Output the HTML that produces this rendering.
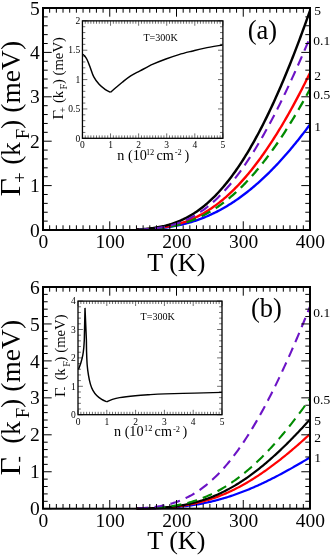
<!DOCTYPE html>
<html><head><meta charset="utf-8"><title>fig</title>
<style>
html,body{margin:0;padding:0;background:#fff;}
svg{display:block;}
.t{opacity:0.999;}
text{font-family:"Liberation Serif",serif;fill:#000;}
</style></head><body>
<svg width="332" height="555" viewBox="0 0 332 555">
<defs>
<clipPath id="ca"><rect x="42" y="7" width="269" height="224"/></clipPath>
<clipPath id="cb"><rect x="42" y="286" width="269" height="223.7"/></clipPath>
</defs>
<rect width="332" height="555" fill="#fff"/>
<g class="t">
<g clip-path="url(#ca)">
<path d="M136.45 229.69 L137.78 229.64 L139.12 229.6 L140.45 229.55 L141.79 229.5 L143.12 229.44 L144.46 229.38 L145.8 229.31 L147.13 229.23 L148.47 229.15 L149.8 229.07 L151.13 228.98 L152.47 228.88 L153.81 228.77 L155.14 228.66 L156.47 228.54 L157.81 228.41 L159.14 228.28 L160.48 228.13 L161.81 227.98 L163.15 227.82 L164.49 227.65 L165.82 227.47 L167.16 227.28 L168.49 227.09 L169.82 226.88 L171.16 226.66 L172.5 226.43 L173.83 226.2 L175.16 225.95 L176.5 225.69 L177.84 225.41 L179.17 225.13 L180.5 224.84 L181.84 224.53 L183.18 224.21 L184.51 223.88 L185.84 223.53 L187.18 223.18 L188.51 222.81 L189.85 222.43 L191.19 222.03 L192.52 221.62 L193.85 221.2 L195.19 220.77 L196.53 220.32 L197.86 219.85 L199.19 219.37 L200.53 218.88 L201.87 218.38 L203.2 217.86 L204.53 217.32 L205.87 216.77 L207.21 216.21 L208.54 215.63 L209.88 215.03 L211.21 214.42 L212.54 213.8 L213.88 213.16 L215.22 212.5 L216.55 211.83 L217.88 211.14 L219.22 210.44 L220.56 209.72 L221.89 208.99 L223.22 208.24 L224.56 207.47 L225.9 206.69 L227.23 205.89 L228.56 205.08 L229.9 204.25 L231.24 203.4 L232.57 202.54 L233.91 201.66 L235.24 200.77 L236.57 199.86 L237.91 198.93 L239.25 197.98 L240.58 197.02 L241.91 196.05 L243.25 195.05 L244.59 194.04 L245.92 193.02 L247.25 191.98 L248.59 190.92 L249.93 189.84 L251.26 188.75 L252.59 187.64 L253.93 186.52 L255.26 185.37 L256.6 184.22 L257.94 183.04 L259.27 181.85 L260.61 180.64 L261.94 179.42 L263.27 178.18 L264.61 176.92 L265.94 175.65 L267.28 174.36 L268.62 173.05 L269.95 171.73 L271.28 170.39 L272.62 169.03 L273.96 167.66 L275.29 166.27 L276.62 164.86 L277.96 163.44 L279.29 162 L280.63 160.55 L281.97 159.08 L283.3 157.59 L284.63 156.09 L285.97 154.57 L287.31 153.04 L288.64 151.48 L289.98 149.92 L291.31 148.33 L292.64 146.73 L293.98 145.12 L295.31 143.48 L296.65 141.84 L297.99 140.17 L299.32 138.49 L300.65 136.8 L301.99 135.08 L303.32 133.36 L304.66 131.61 L306 129.85 L307.33 128.08 L308.67 126.29 L310 124.48" stroke="#0000ff" stroke-width="2.35" fill="none"/>
<path d="M136.45 229.67 L137.78 229.62 L139.12 229.57 L140.45 229.52 L141.79 229.45 L143.12 229.39 L144.46 229.31 L145.8 229.23 L147.13 229.14 L148.47 229.04 L149.8 228.94 L151.13 228.82 L152.47 228.7 L153.81 228.57 L155.14 228.43 L156.47 228.28 L157.81 228.12 L159.14 227.94 L160.48 227.76 L161.81 227.56 L163.15 227.35 L164.49 227.13 L165.82 226.9 L167.16 226.65 L168.49 226.39 L169.82 226.11 L171.16 225.82 L172.5 225.51 L173.83 225.19 L175.16 224.85 L176.5 224.5 L177.84 224.13 L179.17 223.74 L180.5 223.33 L181.84 222.91 L183.18 222.47 L184.51 222.01 L185.84 221.53 L187.18 221.03 L188.51 220.51 L189.85 219.97 L191.19 219.41 L192.52 218.84 L193.85 218.24 L195.19 217.62 L196.53 216.97 L197.86 216.31 L199.19 215.63 L200.53 214.92 L201.87 214.19 L203.2 213.44 L204.53 212.67 L205.87 211.87 L207.21 211.05 L208.54 210.21 L209.88 209.34 L211.21 208.45 L212.54 207.53 L213.88 206.6 L215.22 205.63 L216.55 204.65 L217.88 203.64 L219.22 202.6 L220.56 201.54 L221.89 200.46 L223.22 199.35 L224.56 198.21 L225.9 197.05 L227.23 195.87 L228.56 194.66 L229.9 193.42 L231.24 192.16 L232.57 190.87 L233.91 189.56 L235.24 188.22 L236.57 186.86 L237.91 185.47 L239.25 184.06 L240.58 182.62 L241.91 181.15 L243.25 179.66 L244.59 178.14 L245.92 176.6 L247.25 175.03 L248.59 173.43 L249.93 171.81 L251.26 170.17 L252.59 168.5 L253.93 166.8 L255.26 165.07 L256.6 163.33 L257.94 161.55 L259.27 159.75 L260.61 157.92 L261.94 156.07 L263.27 154.2 L264.61 152.29 L265.94 150.37 L267.28 148.41 L268.62 146.43 L269.95 144.43 L271.28 142.4 L272.62 140.35 L273.96 138.27 L275.29 136.16 L276.62 134.03 L277.96 131.88 L279.29 129.7 L280.63 127.5 L281.97 125.27 L283.3 123.01 L284.63 120.74 L285.97 118.43 L287.31 116.11 L288.64 113.76 L289.98 111.38 L291.31 108.98 L292.64 106.56 L293.98 104.11 L295.31 101.64 L296.65 99.15 L297.99 96.63 L299.32 94.09 L300.65 91.52 L301.99 88.93 L303.32 86.32 L304.66 83.68 L306 81.02 L307.33 78.34 L308.67 75.64 L310 72.91" stroke="#ff0000" stroke-width="2.4" fill="none"/>
<path d="M136.45 229.53 L137.78 229.46 L139.12 229.39 L140.45 229.31 L141.79 229.22 L143.12 229.12 L144.46 229.01 L145.8 228.9 L147.13 228.77 L148.47 228.63 L149.8 228.48 L151.13 228.32 L152.47 228.15 L153.81 227.96 L155.14 227.76 L156.47 227.55 L157.81 227.32 L159.14 227.07 L160.48 226.81 L161.81 226.53 L163.15 226.24 L164.49 225.93 L165.82 225.59 L167.16 225.24 L168.49 224.87 L169.82 224.48 L171.16 224.07 L172.5 223.64 L173.83 223.19 L175.16 222.71 L176.5 222.21 L177.84 221.69 L179.17 221.14 L180.5 220.57 L181.84 219.98 L183.18 219.36 L184.51 218.71 L185.84 218.04 L187.18 217.34 L188.51 216.61 L189.85 215.85 L191.19 215.07 L192.52 214.26 L193.85 213.42 L195.19 212.55 L196.53 211.65 L197.86 210.72 L199.19 209.76 L200.53 208.77 L201.87 207.75 L203.2 206.7 L204.53 205.61 L205.87 204.5 L207.21 203.35 L208.54 202.17 L209.88 200.95 L211.21 199.71 L212.54 198.43 L213.88 197.12 L215.22 195.77 L216.55 194.39 L217.88 192.98 L219.22 191.53 L220.56 190.05 L221.89 188.53 L223.22 186.98 L224.56 185.39 L225.9 183.77 L227.23 182.12 L228.56 180.42 L229.9 178.7 L231.24 176.94 L232.57 175.14 L233.91 173.31 L235.24 171.44 L236.57 169.54 L237.91 167.6 L239.25 165.62 L240.58 163.61 L241.91 161.56 L243.25 159.48 L244.59 157.36 L245.92 155.21 L247.25 153.02 L248.59 150.79 L249.93 148.53 L251.26 146.24 L252.59 143.9 L253.93 141.53 L255.26 139.13 L256.6 136.69 L257.94 134.21 L259.27 131.7 L260.61 129.15 L261.94 126.57 L263.27 123.95 L264.61 121.3 L265.94 118.61 L267.28 115.88 L268.62 113.12 L269.95 110.33 L271.28 107.5 L272.62 104.63 L273.96 101.73 L275.29 98.79 L276.62 95.82 L277.96 92.82 L279.29 89.78 L280.63 86.71 L281.97 83.6 L283.3 80.46 L284.63 77.28 L285.97 74.07 L287.31 70.82 L288.64 67.54 L289.98 64.23 L291.31 60.88 L292.64 57.5 L293.98 54.09 L295.31 50.64 L296.65 47.16 L297.99 43.65 L299.32 40.1 L300.65 36.52 L301.99 32.91 L303.32 29.27 L304.66 25.59 L306 21.88 L307.33 18.14 L308.67 14.37 L310 10.56" stroke="#000" stroke-width="2.45" fill="none"/>
<path d="M136.45 229.72 L137.78 229.68 L139.12 229.64 L140.45 229.59 L141.79 229.54 L143.12 229.48 L144.46 229.41 L145.8 229.34 L147.13 229.26 L148.47 229.18 L149.8 229.09 L151.13 228.99 L152.47 228.89 L153.81 228.77 L155.14 228.65 L156.47 228.52 L157.81 228.38 L159.14 228.23 L160.48 228.07 L161.81 227.89 L163.15 227.71 L164.49 227.52 L165.82 227.31 L167.16 227.1 L168.49 226.87 L169.82 226.62 L171.16 226.37 L172.5 226.1 L173.83 225.82 L175.16 225.52 L176.5 225.21 L177.84 224.88 L179.17 224.54 L180.5 224.18 L181.84 223.81 L183.18 223.42 L184.51 223.01 L185.84 222.59 L187.18 222.15 L188.51 221.69 L189.85 221.21 L191.19 220.72 L192.52 220.21 L193.85 219.68 L195.19 219.13 L196.53 218.56 L197.86 217.97 L199.19 217.36 L200.53 216.74 L201.87 216.09 L203.2 215.42 L204.53 214.73 L205.87 214.02 L207.21 213.29 L208.54 212.54 L209.88 211.77 L211.21 210.98 L212.54 210.16 L213.88 209.33 L215.22 208.47 L216.55 207.59 L217.88 206.69 L219.22 205.76 L220.56 204.82 L221.89 203.85 L223.22 202.86 L224.56 201.84 L225.9 200.81 L227.23 199.75 L228.56 198.66 L229.9 197.56 L231.24 196.43 L232.57 195.28 L233.91 194.11 L235.24 192.91 L236.57 191.69 L237.91 190.44 L239.25 189.18 L240.58 187.89 L241.91 186.57 L243.25 185.23 L244.59 183.87 L245.92 182.49 L247.25 181.08 L248.59 179.65 L249.93 178.2 L251.26 176.72 L252.59 175.22 L253.93 173.69 L255.26 172.15 L256.6 170.57 L257.94 168.98 L259.27 167.36 L260.61 165.72 L261.94 164.06 L263.27 162.37 L264.61 160.66 L265.94 158.93 L267.28 157.17 L268.62 155.39 L269.95 153.59 L271.28 151.76 L272.62 149.91 L273.96 148.04 L275.29 146.15 L276.62 144.23 L277.96 142.29 L279.29 140.33 L280.63 138.35 L281.97 136.34 L283.3 134.31 L284.63 132.26 L285.97 130.18 L287.31 128.09 L288.64 125.97 L289.98 123.83 L291.31 121.67 L292.64 119.49 L293.98 117.28 L295.31 115.05 L296.65 112.8 L297.99 110.53 L299.32 108.24 L300.65 105.93 L301.99 103.6 L303.32 101.24 L304.66 98.86 L306 96.47 L307.33 94.05 L308.67 91.61 L310 89.15" stroke="#008b00" stroke-width="2.3" fill="none" stroke-dasharray="10 6.2" stroke-dashoffset="13.88"/>
<path d="M136.45 229.69 L137.78 229.64 L139.12 229.59 L140.45 229.53 L141.79 229.47 L143.12 229.39 L144.46 229.31 L145.8 229.23 L147.13 229.13 L148.47 229.03 L149.8 228.91 L151.13 228.79 L152.47 228.65 L153.81 228.5 L155.14 228.35 L156.47 228.17 L157.81 227.99 L159.14 227.79 L160.48 227.58 L161.81 227.36 L163.15 227.11 L164.49 226.86 L165.82 226.58 L167.16 226.29 L168.49 225.98 L169.82 225.66 L171.16 225.31 L172.5 224.95 L173.83 224.56 L175.16 224.16 L176.5 223.73 L177.84 223.28 L179.17 222.81 L180.5 222.32 L181.84 221.8 L183.18 221.26 L184.51 220.7 L185.84 220.11 L187.18 219.5 L188.51 218.86 L189.85 218.19 L191.19 217.5 L192.52 216.79 L193.85 216.04 L195.19 215.27 L196.53 214.47 L197.86 213.64 L199.19 212.79 L200.53 211.9 L201.87 210.99 L203.2 210.04 L204.53 209.07 L205.87 208.07 L207.21 207.04 L208.54 205.97 L209.88 204.88 L211.21 203.76 L212.54 202.6 L213.88 201.41 L215.22 200.2 L216.55 198.95 L217.88 197.67 L219.22 196.36 L220.56 195.01 L221.89 193.64 L223.22 192.23 L224.56 190.79 L225.9 189.32 L227.23 187.82 L228.56 186.28 L229.9 184.72 L231.24 183.12 L232.57 181.49 L233.91 179.82 L235.24 178.13 L236.57 176.4 L237.91 174.65 L239.25 172.86 L240.58 171.04 L241.91 169.18 L243.25 167.3 L244.59 165.38 L245.92 163.44 L247.25 161.46 L248.59 159.45 L249.93 157.41 L251.26 155.34 L252.59 153.24 L253.93 151.11 L255.26 148.95 L256.6 146.76 L257.94 144.54 L259.27 142.29 L260.61 140.02 L261.94 137.71 L263.27 135.37 L264.61 133.01 L265.94 130.61 L267.28 128.19 L268.62 125.74 L269.95 123.26 L271.28 120.76 L272.62 118.23 L273.96 115.67 L275.29 113.08 L276.62 110.47 L277.96 107.83 L279.29 105.17 L280.63 102.48 L281.97 99.76 L283.3 97.02 L284.63 94.25 L285.97 91.46 L287.31 88.65 L288.64 85.81 L289.98 82.95 L291.31 80.06 L292.64 77.16 L293.98 74.23 L295.31 71.27 L296.65 68.3 L297.99 65.3 L299.32 62.28 L300.65 59.24 L301.99 56.18 L303.32 53.1 L304.66 49.99 L306 46.87 L307.33 43.73 L308.67 40.57 L310 37.39" stroke="#6c14c6" stroke-width="2.1" fill="none" stroke-dasharray="10 6.2" stroke-dashoffset="13.87"/>
</g>
<path d="M43 230v-8.7M43 8v8.7M49.67 230v-4.7M49.67 8v4.7M56.35 230v-4.7M56.35 8v4.7M63.02 230v-4.7M63.02 8v4.7M69.7 230v-4.7M69.7 8v4.7M76.38 230v-4.7M76.38 8v4.7M83.05 230v-4.7M83.05 8v4.7M89.72 230v-4.7M89.72 8v4.7M96.4 230v-4.7M96.4 8v4.7M103.08 230v-4.7M103.08 8v4.7M109.75 230v-8.7M109.75 8v8.7M116.42 230v-4.7M116.42 8v4.7M123.1 230v-4.7M123.1 8v4.7M129.78 230v-4.7M129.78 8v4.7M136.45 230v-4.7M136.45 8v4.7M143.12 230v-4.7M143.12 8v4.7M149.8 230v-4.7M149.8 8v4.7M156.47 230v-4.7M156.47 8v4.7M163.15 230v-4.7M163.15 8v4.7M169.82 230v-4.7M169.82 8v4.7M176.5 230v-8.7M176.5 8v8.7M183.18 230v-4.7M183.18 8v4.7M189.85 230v-4.7M189.85 8v4.7M196.53 230v-4.7M196.53 8v4.7M203.2 230v-4.7M203.2 8v4.7M209.88 230v-4.7M209.88 8v4.7M216.55 230v-4.7M216.55 8v4.7M223.22 230v-4.7M223.22 8v4.7M229.9 230v-4.7M229.9 8v4.7M236.57 230v-4.7M236.57 8v4.7M243.25 230v-8.7M243.25 8v8.7M249.93 230v-4.7M249.93 8v4.7M256.6 230v-4.7M256.6 8v4.7M263.27 230v-4.7M263.27 8v4.7M269.95 230v-4.7M269.95 8v4.7M276.62 230v-4.7M276.62 8v4.7M283.3 230v-4.7M283.3 8v4.7M289.98 230v-4.7M289.98 8v4.7M296.65 230v-4.7M296.65 8v4.7M303.32 230v-4.7M303.32 8v4.7M310 230v-8.7M310 8v8.7" stroke="#000" stroke-width="1" fill="none"/>
<path d="M43 230h8.7M310 230h-8.7M43 221.12h4.7M310 221.12h-4.7M43 212.24h4.7M310 212.24h-4.7M43 203.36h4.7M310 203.36h-4.7M43 194.48h4.7M310 194.48h-4.7M43 185.6h8.7M310 185.6h-8.7M43 176.72h4.7M310 176.72h-4.7M43 167.84h4.7M310 167.84h-4.7M43 158.96h4.7M310 158.96h-4.7M43 150.08h4.7M310 150.08h-4.7M43 141.2h8.7M310 141.2h-8.7M43 132.32h4.7M310 132.32h-4.7M43 123.44h4.7M310 123.44h-4.7M43 114.56h4.7M310 114.56h-4.7M43 105.68h4.7M310 105.68h-4.7M43 96.8h8.7M310 96.8h-8.7M43 87.92h4.7M310 87.92h-4.7M43 79.04h4.7M310 79.04h-4.7M43 70.16h4.7M310 70.16h-4.7M43 61.28h4.7M310 61.28h-4.7M43 52.4h8.7M310 52.4h-8.7M43 43.52h4.7M310 43.52h-4.7M43 34.64h4.7M310 34.64h-4.7M43 25.76h4.7M310 25.76h-4.7M43 16.88h4.7M310 16.88h-4.7M43 8h8.7M310 8h-8.7" stroke="#000" stroke-width="1" fill="none"/>
<rect x="43" y="8" width="267" height="222" fill="none" stroke="#000" stroke-width="2"/>
<text x="39.8" y="236.6" font-size="19.5" text-anchor="end" >0</text>
<text x="39.8" y="192.2" font-size="19.5" text-anchor="end" >1</text>
<text x="39.8" y="147.8" font-size="19.5" text-anchor="end" >2</text>
<text x="39.8" y="103.4" font-size="19.5" text-anchor="end" >3</text>
<text x="39.8" y="59" font-size="19.5" text-anchor="end" >4</text>
<text x="39.8" y="14.6" font-size="19.5" text-anchor="end" >5</text>
<text x="43.3" y="248.2" font-size="19.5" text-anchor="middle" >0</text>
<text x="110.05" y="248.2" font-size="19.5" text-anchor="middle" >100</text>
<text x="176.8" y="248.2" font-size="19.5" text-anchor="middle" >200</text>
<text x="243.55" y="248.2" font-size="19.5" text-anchor="middle" >300</text>
<text x="310.3" y="248.2" font-size="19.5" text-anchor="middle" >400</text>
<text x="176.3" y="270.6" font-size="26" text-anchor="middle" >T (K)</text>
<text x="262.5" y="38.8" font-size="26.5" text-anchor="middle" >(a)</text>
<text x="314.3" y="15" font-size="13.5" text-anchor="start" >5</text>
<text x="313.3" y="45.3" font-size="13.5" text-anchor="start" >0.1</text>
<text x="314.3" y="79.5" font-size="13.5" text-anchor="start" >2</text>
<text x="313.3" y="98.9" font-size="13.5" text-anchor="start" >0.5</text>
<text x="314.3" y="131" font-size="13.5" text-anchor="start" >1</text>
<g transform="translate(20.1 196) rotate(-90)" font-size="27.5"><text transform="scale(1.15 1.05)" x="-0.43" y="0">Γ</text><text x="12.9" y="6" font-size="18.97">+</text><text x="31.3" y="0">(</text><text x="40.1" y="0">k</text><text x="56.7" y="8.8" font-size="18.97">F</text><text x="67" y="0">)</text><text x="83.3" y="0">(meV)</text></g>
<path d="M82.45 138.3v-4.9M82.45 20.85v4.9M85.26 138.3v-2.9M85.26 20.85v2.9M88.07 138.3v-2.9M88.07 20.85v2.9M90.88 138.3v-2.9M90.88 20.85v2.9M93.69 138.3v-2.9M93.69 20.85v2.9M96.5 138.3v-2.9M96.5 20.85v2.9M99.3 138.3v-2.9M99.3 20.85v2.9M102.11 138.3v-2.9M102.11 20.85v2.9M104.92 138.3v-2.9M104.92 20.85v2.9M107.73 138.3v-2.9M107.73 20.85v2.9M110.54 138.3v-4.9M110.54 20.85v4.9M113.35 138.3v-2.9M113.35 20.85v2.9M116.16 138.3v-2.9M116.16 20.85v2.9M118.97 138.3v-2.9M118.97 20.85v2.9M121.78 138.3v-2.9M121.78 20.85v2.9M124.59 138.3v-2.9M124.59 20.85v2.9M127.39 138.3v-2.9M127.39 20.85v2.9M130.2 138.3v-2.9M130.2 20.85v2.9M133.01 138.3v-2.9M133.01 20.85v2.9M135.82 138.3v-2.9M135.82 20.85v2.9M138.63 138.3v-4.9M138.63 20.85v4.9M141.44 138.3v-2.9M141.44 20.85v2.9M144.25 138.3v-2.9M144.25 20.85v2.9M147.06 138.3v-2.9M147.06 20.85v2.9M149.87 138.3v-2.9M149.87 20.85v2.9M152.68 138.3v-2.9M152.68 20.85v2.9M155.48 138.3v-2.9M155.48 20.85v2.9M158.29 138.3v-2.9M158.29 20.85v2.9M161.1 138.3v-2.9M161.1 20.85v2.9M163.91 138.3v-2.9M163.91 20.85v2.9M166.72 138.3v-4.9M166.72 20.85v4.9M169.53 138.3v-2.9M169.53 20.85v2.9M172.34 138.3v-2.9M172.34 20.85v2.9M175.15 138.3v-2.9M175.15 20.85v2.9M177.96 138.3v-2.9M177.96 20.85v2.9M180.76 138.3v-2.9M180.76 20.85v2.9M183.57 138.3v-2.9M183.57 20.85v2.9M186.38 138.3v-2.9M186.38 20.85v2.9M189.19 138.3v-2.9M189.19 20.85v2.9M192 138.3v-2.9M192 20.85v2.9M194.81 138.3v-4.9M194.81 20.85v4.9M197.62 138.3v-2.9M197.62 20.85v2.9M200.43 138.3v-2.9M200.43 20.85v2.9M203.24 138.3v-2.9M203.24 20.85v2.9M206.05 138.3v-2.9M206.05 20.85v2.9M208.85 138.3v-2.9M208.85 20.85v2.9M211.66 138.3v-2.9M211.66 20.85v2.9M214.47 138.3v-2.9M214.47 20.85v2.9M217.28 138.3v-2.9M217.28 20.85v2.9M220.09 138.3v-2.9M220.09 20.85v2.9M222.9 138.3v-4.9M222.9 20.85v4.9" stroke="#000" stroke-width="0.58" fill="none"/>
<path d="M82.45 138.3h4.9M222.9 138.3h-4.9M82.45 132.43h2.9M222.9 132.43h-2.9M82.45 126.56h2.9M222.9 126.56h-2.9M82.45 120.68h2.9M222.9 120.68h-2.9M82.45 114.81h2.9M222.9 114.81h-2.9M82.45 108.94h4.9M222.9 108.94h-4.9M82.45 103.07h2.9M222.9 103.07h-2.9M82.45 97.19h2.9M222.9 97.19h-2.9M82.45 91.32h2.9M222.9 91.32h-2.9M82.45 85.45h2.9M222.9 85.45h-2.9M82.45 79.58h4.9M222.9 79.58h-4.9M82.45 73.7h2.9M222.9 73.7h-2.9M82.45 67.83h2.9M222.9 67.83h-2.9M82.45 61.96h2.9M222.9 61.96h-2.9M82.45 56.09h2.9M222.9 56.09h-2.9M82.45 50.21h4.9M222.9 50.21h-4.9M82.45 44.34h2.9M222.9 44.34h-2.9M82.45 38.47h2.9M222.9 38.47h-2.9M82.45 32.59h2.9M222.9 32.59h-2.9M82.45 26.72h2.9M222.9 26.72h-2.9M82.45 20.85h4.9M222.9 20.85h-4.9" stroke="#000" stroke-width="0.58" fill="none"/>
<rect x="82.45" y="20.85" width="140.45" height="117.45" fill="none" stroke="#000" stroke-width="1.3"/>
<path d="M82.9 54.3C83.17 54.55 83.82 54.93 84.5 55.8C85.18 56.67 86.05 57.57 87 59.5C87.95 61.43 89.07 64.5 90.2 67.4C91.33 70.3 92.32 74.08 93.8 76.9C95.28 79.72 97.17 82.18 99.1 84.3C101.03 86.42 103.5 88.27 105.4 89.6C107.3 90.93 109.65 91.85 110.5 92.3" stroke="#000" stroke-width="1.45" fill="none"/>
<path d="M110.5 92.3C111.42 91.5 114.03 89.18 116 87.5C117.97 85.82 119.85 84.13 122.3 82.2C124.75 80.27 127.75 77.78 130.7 75.9C133.65 74.02 136.28 72.85 140 70.9C143.72 68.95 148.68 66.18 153 64.2C157.32 62.22 161.58 60.6 165.9 59C170.22 57.4 174.58 55.9 178.9 54.6C183.22 53.3 187.48 52.28 191.8 51.2C196.12 50.12 199.7 49.13 204.8 48.1C209.9 47.07 219.47 45.52 222.4 45" stroke="#000" stroke-width="1.45" fill="none" stroke-linejoin="miter"/>
<text x="80.2" y="141.5" font-size="9.5" text-anchor="end" >0</text>
<text x="80.2" y="112.14" font-size="9.5" text-anchor="end" >0.5</text>
<text x="80.2" y="82.78" font-size="9.5" text-anchor="end" >1</text>
<text x="80.2" y="53.41" font-size="9.5" text-anchor="end" >1.5</text>
<text x="80.2" y="24.05" font-size="9.5" text-anchor="end" >2</text>
<text x="82.45" y="147.6" font-size="9.5" text-anchor="middle" >0</text>
<text x="110.54" y="147.6" font-size="9.5" text-anchor="middle" >1</text>
<text x="138.63" y="147.6" font-size="9.5" text-anchor="middle" >2</text>
<text x="166.72" y="147.6" font-size="9.5" text-anchor="middle" >3</text>
<text x="194.81" y="147.6" font-size="9.5" text-anchor="middle" >4</text>
<text x="222.9" y="147.6" font-size="9.5" text-anchor="middle" >5</text>
<text x="143.4" y="40.7" font-size="10.1" text-anchor="start" >T=300K</text>
<g font-size="14.2"><text x="117.3" y="159.7">n (10</text><text x="145.9" y="154.7" font-size="8.38">12</text><text x="156.5" y="159.7">cm</text><text x="174.8" y="155.1" font-size="8.38">-2</text><text x="184.5" y="159.7">)</text></g>
<g transform="translate(62.6 119.6) rotate(-90)" font-size="14.7"><text transform="scale(1.15 1.05)" x="-0.23" y="0">Γ</text><text x="6.84" y="3.18" font-size="10.14">+</text><text x="16.59" y="0">(</text><text x="21.25" y="0">k</text><text x="30.05" y="4.66" font-size="10.14">F</text><text x="35.51" y="0">)</text><text x="44.15" y="0">(meV)</text></g>
<g clip-path="url(#cb)">
<path d="M136.45 508.62 L137.78 508.61 L139.12 508.6 L140.45 508.58 L141.79 508.57 L143.12 508.55 L144.46 508.53 L145.8 508.51 L147.13 508.48 L148.47 508.46 L149.8 508.43 L151.13 508.39 L152.47 508.36 L153.81 508.32 L155.14 508.28 L156.47 508.23 L157.81 508.18 L159.14 508.13 L160.48 508.08 L161.81 508.02 L163.15 507.95 L164.49 507.88 L165.82 507.81 L167.16 507.73 L168.49 507.65 L169.82 507.56 L171.16 507.47 L172.5 507.37 L173.83 507.27 L175.16 507.16 L176.5 507.04 L177.84 506.92 L179.17 506.79 L180.5 506.66 L181.84 506.52 L183.18 506.37 L184.51 506.22 L185.84 506.06 L187.18 505.89 L188.51 505.72 L189.85 505.53 L191.19 505.35 L192.52 505.15 L193.85 504.95 L195.19 504.73 L196.53 504.51 L197.86 504.29 L199.19 504.05 L200.53 503.81 L201.87 503.56 L203.2 503.3 L204.53 503.03 L205.87 502.75 L207.21 502.47 L208.54 502.18 L209.88 501.88 L211.21 501.57 L212.54 501.25 L213.88 500.92 L215.22 500.59 L216.55 500.24 L217.88 499.89 L219.22 499.53 L220.56 499.16 L221.89 498.78 L223.22 498.39 L224.56 498 L225.9 497.59 L227.23 497.18 L228.56 496.76 L229.9 496.33 L231.24 495.89 L232.57 495.44 L233.91 494.99 L235.24 494.52 L236.57 494.05 L237.91 493.57 L239.25 493.08 L240.58 492.58 L241.91 492.08 L243.25 491.57 L244.59 491.04 L245.92 490.51 L247.25 489.98 L248.59 489.43 L249.93 488.88 L251.26 488.31 L252.59 487.75 L253.93 487.17 L255.26 486.59 L256.6 485.99 L257.94 485.39 L259.27 484.79 L260.61 484.18 L261.94 483.56 L263.27 482.93 L264.61 482.29 L265.94 481.65 L267.28 481.01 L268.62 480.35 L269.95 479.69 L271.28 479.02 L272.62 478.35 L273.96 477.67 L275.29 476.99 L276.62 476.3 L277.96 475.6 L279.29 474.9 L280.63 474.19 L281.97 473.47 L283.3 472.76 L284.63 472.03 L285.97 471.3 L287.31 470.57 L288.64 469.83 L289.98 469.09 L291.31 468.34 L292.64 467.59 L293.98 466.83 L295.31 466.07 L296.65 465.3 L297.99 464.53 L299.32 463.76 L300.65 462.98 L301.99 462.2 L303.32 461.42 L304.66 460.63 L306 459.84 L307.33 459.05 L308.67 458.25 L310 457.45" stroke="#0000ff" stroke-width="2.2" fill="none"/>
<path d="M136.45 508.61 L137.78 508.59 L139.12 508.58 L140.45 508.56 L141.79 508.54 L143.12 508.51 L144.46 508.49 L145.8 508.46 L147.13 508.43 L148.47 508.39 L149.8 508.35 L151.13 508.31 L152.47 508.26 L153.81 508.21 L155.14 508.16 L156.47 508.1 L157.81 508.04 L159.14 507.97 L160.48 507.9 L161.81 507.82 L163.15 507.73 L164.49 507.64 L165.82 507.55 L167.16 507.44 L168.49 507.33 L169.82 507.21 L171.16 507.09 L172.5 506.96 L173.83 506.82 L175.16 506.67 L176.5 506.52 L177.84 506.35 L179.17 506.18 L180.5 506 L181.84 505.81 L183.18 505.61 L184.51 505.4 L185.84 505.18 L187.18 504.96 L188.51 504.72 L189.85 504.47 L191.19 504.21 L192.52 503.94 L193.85 503.66 L195.19 503.37 L196.53 503.07 L197.86 502.75 L199.19 502.43 L200.53 502.09 L201.87 501.75 L203.2 501.39 L204.53 501.01 L205.87 500.63 L207.21 500.23 L208.54 499.83 L209.88 499.41 L211.21 498.97 L212.54 498.53 L213.88 498.07 L215.22 497.6 L216.55 497.12 L217.88 496.62 L219.22 496.11 L220.56 495.59 L221.89 495.06 L223.22 494.51 L224.56 493.95 L225.9 493.38 L227.23 492.79 L228.56 492.19 L229.9 491.58 L231.24 490.95 L232.57 490.32 L233.91 489.67 L235.24 489 L236.57 488.33 L237.91 487.64 L239.25 486.94 L240.58 486.22 L241.91 485.49 L243.25 484.75 L244.59 484 L245.92 483.24 L247.25 482.46 L248.59 481.67 L249.93 480.87 L251.26 480.05 L252.59 479.23 L253.93 478.39 L255.26 477.54 L256.6 476.68 L257.94 475.81 L259.27 474.92 L260.61 474.02 L261.94 473.12 L263.27 472.2 L264.61 471.27 L265.94 470.33 L267.28 469.37 L268.62 468.41 L269.95 467.44 L271.28 466.45 L272.62 465.46 L273.96 464.46 L275.29 463.44 L276.62 462.42 L277.96 461.38 L279.29 460.34 L280.63 459.29 L281.97 458.22 L283.3 457.15 L284.63 456.07 L285.97 454.98 L287.31 453.88 L288.64 452.78 L289.98 451.66 L291.31 450.54 L292.64 449.4 L293.98 448.26 L295.31 447.12 L296.65 445.96 L297.99 444.8 L299.32 443.63 L300.65 442.45 L301.99 441.27 L303.32 440.08 L304.66 438.88 L306 437.67 L307.33 436.46 L308.67 435.25 L310 434.03" stroke="#ff0000" stroke-width="2.2" fill="none"/>
<path d="M136.45 508.59 L137.78 508.57 L139.12 508.55 L140.45 508.53 L141.79 508.51 L143.12 508.48 L144.46 508.45 L145.8 508.41 L147.13 508.37 L148.47 508.33 L149.8 508.29 L151.13 508.24 L152.47 508.18 L153.81 508.13 L155.14 508.06 L156.47 507.99 L157.81 507.92 L159.14 507.84 L160.48 507.75 L161.81 507.66 L163.15 507.56 L164.49 507.45 L165.82 507.33 L167.16 507.21 L168.49 507.08 L169.82 506.94 L171.16 506.8 L172.5 506.64 L173.83 506.47 L175.16 506.3 L176.5 506.12 L177.84 505.92 L179.17 505.72 L180.5 505.51 L181.84 505.28 L183.18 505.05 L184.51 504.8 L185.84 504.54 L187.18 504.27 L188.51 503.99 L189.85 503.69 L191.19 503.39 L192.52 503.07 L193.85 502.74 L195.19 502.39 L196.53 502.03 L197.86 501.66 L199.19 501.28 L200.53 500.88 L201.87 500.47 L203.2 500.04 L204.53 499.6 L205.87 499.15 L207.21 498.68 L208.54 498.19 L209.88 497.69 L211.21 497.18 L212.54 496.65 L213.88 496.11 L215.22 495.55 L216.55 494.98 L217.88 494.39 L219.22 493.79 L220.56 493.17 L221.89 492.53 L223.22 491.88 L224.56 491.22 L225.9 490.54 L227.23 489.84 L228.56 489.13 L229.9 488.4 L231.24 487.66 L232.57 486.9 L233.91 486.13 L235.24 485.34 L236.57 484.53 L237.91 483.71 L239.25 482.88 L240.58 482.03 L241.91 481.16 L243.25 480.28 L244.59 479.39 L245.92 478.48 L247.25 477.55 L248.59 476.61 L249.93 475.65 L251.26 474.68 L252.59 473.7 L253.93 472.7 L255.26 471.68 L256.6 470.65 L257.94 469.61 L259.27 468.55 L260.61 467.48 L261.94 466.4 L263.27 465.3 L264.61 464.19 L265.94 463.06 L267.28 461.92 L268.62 460.77 L269.95 459.61 L271.28 458.43 L272.62 457.24 L273.96 456.04 L275.29 454.82 L276.62 453.59 L277.96 452.35 L279.29 451.1 L280.63 449.84 L281.97 448.56 L283.3 447.27 L284.63 445.98 L285.97 444.67 L287.31 443.35 L288.64 442.01 L289.98 440.67 L291.31 439.32 L292.64 437.96 L293.98 436.59 L295.31 435.2 L296.65 433.81 L297.99 432.41 L299.32 431 L300.65 429.58 L301.99 428.15 L303.32 426.71 L304.66 425.27 L306 423.81 L307.33 422.35 L308.67 420.88 L310 419.4" stroke="#000" stroke-width="2.2" fill="none"/>
<path d="M136.45 508.53 L137.78 508.51 L139.12 508.48 L140.45 508.45 L141.79 508.41 L143.12 508.38 L144.46 508.33 L145.8 508.29 L147.13 508.23 L148.47 508.18 L149.8 508.12 L151.13 508.05 L152.47 507.98 L153.81 507.9 L155.14 507.81 L156.47 507.72 L157.81 507.62 L159.14 507.51 L160.48 507.4 L161.81 507.28 L163.15 507.15 L164.49 507.01 L165.82 506.86 L167.16 506.7 L168.49 506.53 L169.82 506.36 L171.16 506.17 L172.5 505.97 L173.83 505.76 L175.16 505.54 L176.5 505.31 L177.84 505.07 L179.17 504.81 L180.5 504.54 L181.84 504.26 L183.18 503.97 L184.51 503.66 L185.84 503.34 L187.18 503 L188.51 502.65 L189.85 502.29 L191.19 501.91 L192.52 501.52 L193.85 501.11 L195.19 500.69 L196.53 500.25 L197.86 499.79 L199.19 499.32 L200.53 498.83 L201.87 498.33 L203.2 497.81 L204.53 497.28 L205.87 496.72 L207.21 496.15 L208.54 495.56 L209.88 494.96 L211.21 494.34 L212.54 493.7 L213.88 493.04 L215.22 492.37 L216.55 491.67 L217.88 490.96 L219.22 490.23 L220.56 489.48 L221.89 488.72 L223.22 487.94 L224.56 487.13 L225.9 486.31 L227.23 485.47 L228.56 484.62 L229.9 483.74 L231.24 482.84 L232.57 481.93 L233.91 481 L235.24 480.05 L236.57 479.08 L237.91 478.09 L239.25 477.08 L240.58 476.06 L241.91 475.01 L243.25 473.95 L244.59 472.87 L245.92 471.77 L247.25 470.65 L248.59 469.52 L249.93 468.36 L251.26 467.19 L252.59 466 L253.93 464.79 L255.26 463.56 L256.6 462.31 L257.94 461.05 L259.27 459.77 L260.61 458.47 L261.94 457.15 L263.27 455.81 L264.61 454.46 L265.94 453.09 L267.28 451.7 L268.62 450.29 L269.95 448.87 L271.28 447.43 L272.62 445.97 L273.96 444.5 L275.29 443.01 L276.62 441.5 L277.96 439.97 L279.29 438.43 L280.63 436.87 L281.97 435.3 L283.3 433.71 L284.63 432.1 L285.97 430.48 L287.31 428.84 L288.64 427.19 L289.98 425.52 L291.31 423.83 L292.64 422.13 L293.98 420.42 L295.31 418.69 L296.65 416.94 L297.99 415.18 L299.32 413.41 L300.65 411.62 L301.99 409.81 L303.32 408 L304.66 406.16 L306 404.32 L307.33 402.46 L308.67 400.58 L310 398.7" stroke="#008b00" stroke-width="2.1" fill="none" stroke-dasharray="10 6.2" stroke-dashoffset="13.44"/>
<path d="M136.45 508.35 L137.78 508.3 L139.12 508.24 L140.45 508.18 L141.79 508.1 L143.12 508.02 L144.46 507.94 L145.8 507.84 L147.13 507.74 L148.47 507.62 L149.8 507.5 L151.13 507.36 L152.47 507.21 L153.81 507.05 L155.14 506.88 L156.47 506.7 L157.81 506.5 L159.14 506.28 L160.48 506.06 L161.81 505.81 L163.15 505.55 L164.49 505.28 L165.82 504.98 L167.16 504.67 L168.49 504.34 L169.82 503.99 L171.16 503.62 L172.5 503.23 L173.83 502.81 L175.16 502.38 L176.5 501.93 L177.84 501.45 L179.17 500.95 L180.5 500.42 L181.84 499.87 L183.18 499.3 L184.51 498.7 L185.84 498.07 L187.18 497.42 L188.51 496.75 L189.85 496.04 L191.19 495.31 L192.52 494.55 L193.85 493.76 L195.19 492.95 L196.53 492.1 L197.86 491.23 L199.19 490.32 L200.53 489.39 L201.87 488.42 L203.2 487.43 L204.53 486.4 L205.87 485.35 L207.21 484.26 L208.54 483.14 L209.88 481.99 L211.21 480.8 L212.54 479.59 L213.88 478.34 L215.22 477.06 L216.55 475.75 L217.88 474.4 L219.22 473.03 L220.56 471.62 L221.89 470.17 L223.22 468.7 L224.56 467.19 L225.9 465.64 L227.23 464.07 L228.56 462.46 L229.9 460.82 L231.24 459.14 L232.57 457.43 L233.91 455.69 L235.24 453.92 L236.57 452.11 L237.91 450.27 L239.25 448.4 L240.58 446.49 L241.91 444.55 L243.25 442.58 L244.59 440.57 L245.92 438.54 L247.25 436.47 L248.59 434.37 L249.93 432.24 L251.26 430.07 L252.59 427.87 L253.93 425.65 L255.26 423.39 L256.6 421.1 L257.94 418.77 L259.27 416.42 L260.61 414.04 L261.94 411.63 L263.27 409.18 L264.61 406.71 L265.94 404.2 L267.28 401.67 L268.62 399.11 L269.95 396.52 L271.28 393.9 L272.62 391.25 L273.96 388.57 L275.29 385.87 L276.62 383.13 L277.96 380.37 L279.29 377.58 L280.63 374.77 L281.97 371.93 L283.3 369.06 L284.63 366.16 L285.97 363.24 L287.31 360.29 L288.64 357.32 L289.98 354.32 L291.31 351.3 L292.64 348.25 L293.98 345.18 L295.31 342.09 L296.65 338.97 L297.99 335.82 L299.32 332.66 L300.65 329.47 L301.99 326.26 L303.32 323.02 L304.66 319.77 L306 316.49 L307.33 313.19 L308.67 309.87 L310 306.53" stroke="#6c14c6" stroke-width="2.1" fill="none" stroke-dasharray="10 6.2" stroke-dashoffset="14.21"/>
</g>
<path d="M43 508.7v-8.7M43 287v8.7M49.67 508.7v-4.7M49.67 287v4.7M56.35 508.7v-4.7M56.35 287v4.7M63.02 508.7v-4.7M63.02 287v4.7M69.7 508.7v-4.7M69.7 287v4.7M76.38 508.7v-4.7M76.38 287v4.7M83.05 508.7v-4.7M83.05 287v4.7M89.72 508.7v-4.7M89.72 287v4.7M96.4 508.7v-4.7M96.4 287v4.7M103.08 508.7v-4.7M103.08 287v4.7M109.75 508.7v-8.7M109.75 287v8.7M116.42 508.7v-4.7M116.42 287v4.7M123.1 508.7v-4.7M123.1 287v4.7M129.78 508.7v-4.7M129.78 287v4.7M136.45 508.7v-4.7M136.45 287v4.7M143.12 508.7v-4.7M143.12 287v4.7M149.8 508.7v-4.7M149.8 287v4.7M156.47 508.7v-4.7M156.47 287v4.7M163.15 508.7v-4.7M163.15 287v4.7M169.82 508.7v-4.7M169.82 287v4.7M176.5 508.7v-8.7M176.5 287v8.7M183.18 508.7v-4.7M183.18 287v4.7M189.85 508.7v-4.7M189.85 287v4.7M196.53 508.7v-4.7M196.53 287v4.7M203.2 508.7v-4.7M203.2 287v4.7M209.88 508.7v-4.7M209.88 287v4.7M216.55 508.7v-4.7M216.55 287v4.7M223.22 508.7v-4.7M223.22 287v4.7M229.9 508.7v-4.7M229.9 287v4.7M236.57 508.7v-4.7M236.57 287v4.7M243.25 508.7v-8.7M243.25 287v8.7M249.93 508.7v-4.7M249.93 287v4.7M256.6 508.7v-4.7M256.6 287v4.7M263.27 508.7v-4.7M263.27 287v4.7M269.95 508.7v-4.7M269.95 287v4.7M276.62 508.7v-4.7M276.62 287v4.7M283.3 508.7v-4.7M283.3 287v4.7M289.98 508.7v-4.7M289.98 287v4.7M296.65 508.7v-4.7M296.65 287v4.7M303.32 508.7v-4.7M303.32 287v4.7M310 508.7v-8.7M310 287v8.7" stroke="#000" stroke-width="1" fill="none"/>
<path d="M43 508.7h8.7M310 508.7h-8.7M43 501.31h4.7M310 501.31h-4.7M43 493.92h4.7M310 493.92h-4.7M43 486.53h4.7M310 486.53h-4.7M43 479.14h4.7M310 479.14h-4.7M43 471.75h8.7M310 471.75h-8.7M43 464.36h4.7M310 464.36h-4.7M43 456.97h4.7M310 456.97h-4.7M43 449.58h4.7M310 449.58h-4.7M43 442.19h4.7M310 442.19h-4.7M43 434.8h8.7M310 434.8h-8.7M43 427.41h4.7M310 427.41h-4.7M43 420.02h4.7M310 420.02h-4.7M43 412.63h4.7M310 412.63h-4.7M43 405.24h4.7M310 405.24h-4.7M43 397.85h8.7M310 397.85h-8.7M43 390.46h4.7M310 390.46h-4.7M43 383.07h4.7M310 383.07h-4.7M43 375.68h4.7M310 375.68h-4.7M43 368.29h4.7M310 368.29h-4.7M43 360.9h8.7M310 360.9h-8.7M43 353.51h4.7M310 353.51h-4.7M43 346.12h4.7M310 346.12h-4.7M43 338.73h4.7M310 338.73h-4.7M43 331.34h4.7M310 331.34h-4.7M43 323.95h8.7M310 323.95h-8.7M43 316.56h4.7M310 316.56h-4.7M43 309.17h4.7M310 309.17h-4.7M43 301.78h4.7M310 301.78h-4.7M43 294.39h4.7M310 294.39h-4.7M43 287h8.7M310 287h-8.7" stroke="#000" stroke-width="1" fill="none"/>
<rect x="43" y="287" width="267" height="221.7" fill="none" stroke="#000" stroke-width="2"/>
<text x="39.8" y="515.3" font-size="19.5" text-anchor="end" >0</text>
<text x="39.8" y="478.35" font-size="19.5" text-anchor="end" >1</text>
<text x="39.8" y="441.4" font-size="19.5" text-anchor="end" >2</text>
<text x="39.8" y="404.45" font-size="19.5" text-anchor="end" >3</text>
<text x="39.8" y="367.5" font-size="19.5" text-anchor="end" >4</text>
<text x="39.8" y="330.55" font-size="19.5" text-anchor="end" >5</text>
<text x="39.8" y="293.6" font-size="19.5" text-anchor="end" >6</text>
<text x="43.3" y="527" font-size="19.5" text-anchor="middle" >0</text>
<text x="110.05" y="527" font-size="19.5" text-anchor="middle" >100</text>
<text x="176.8" y="527" font-size="19.5" text-anchor="middle" >200</text>
<text x="243.55" y="527" font-size="19.5" text-anchor="middle" >300</text>
<text x="310.3" y="527" font-size="19.5" text-anchor="middle" >400</text>
<text x="176.3" y="549.4" font-size="26" text-anchor="middle" >T (K)</text>
<text x="266.5" y="317.2" font-size="26.5" text-anchor="middle" >(b)</text>
<text x="313.3" y="316.9" font-size="13.5" text-anchor="start" >0.1</text>
<text x="313.3" y="403.9" font-size="13.5" text-anchor="start" >0.5</text>
<text x="314.3" y="425.2" font-size="13.5" text-anchor="start" >5</text>
<text x="314.3" y="441.9" font-size="13.5" text-anchor="start" >2</text>
<text x="314.3" y="462.4" font-size="13.5" text-anchor="start" >1</text>
<g transform="translate(20.1 475) rotate(-90)" font-size="27.5"><text transform="scale(1.15 1.05)" x="-0.43" y="0">Γ</text><text x="12.6" y="3.4" font-size="18.97">-</text><text x="31.3" y="0">(</text><text x="40.1" y="0">k</text><text x="56.7" y="8.8" font-size="18.97">F</text><text x="67" y="0">)</text><text x="83.3" y="0">(meV)</text></g>
<path d="M78 414.7v-4.9M78 301.1v4.9M80.88 414.7v-2.9M80.88 301.1v2.9M83.76 414.7v-2.9M83.76 301.1v2.9M86.64 414.7v-2.9M86.64 301.1v2.9M89.52 414.7v-2.9M89.52 301.1v2.9M92.4 414.7v-2.9M92.4 301.1v2.9M95.28 414.7v-2.9M95.28 301.1v2.9M98.16 414.7v-2.9M98.16 301.1v2.9M101.04 414.7v-2.9M101.04 301.1v2.9M103.92 414.7v-2.9M103.92 301.1v2.9M106.8 414.7v-4.9M106.8 301.1v4.9M109.68 414.7v-2.9M109.68 301.1v2.9M112.56 414.7v-2.9M112.56 301.1v2.9M115.44 414.7v-2.9M115.44 301.1v2.9M118.32 414.7v-2.9M118.32 301.1v2.9M121.2 414.7v-2.9M121.2 301.1v2.9M124.08 414.7v-2.9M124.08 301.1v2.9M126.96 414.7v-2.9M126.96 301.1v2.9M129.84 414.7v-2.9M129.84 301.1v2.9M132.72 414.7v-2.9M132.72 301.1v2.9M135.6 414.7v-4.9M135.6 301.1v4.9M138.48 414.7v-2.9M138.48 301.1v2.9M141.36 414.7v-2.9M141.36 301.1v2.9M144.24 414.7v-2.9M144.24 301.1v2.9M147.12 414.7v-2.9M147.12 301.1v2.9M150 414.7v-2.9M150 301.1v2.9M152.88 414.7v-2.9M152.88 301.1v2.9M155.76 414.7v-2.9M155.76 301.1v2.9M158.64 414.7v-2.9M158.64 301.1v2.9M161.52 414.7v-2.9M161.52 301.1v2.9M164.4 414.7v-4.9M164.4 301.1v4.9M167.28 414.7v-2.9M167.28 301.1v2.9M170.16 414.7v-2.9M170.16 301.1v2.9M173.04 414.7v-2.9M173.04 301.1v2.9M175.92 414.7v-2.9M175.92 301.1v2.9M178.8 414.7v-2.9M178.8 301.1v2.9M181.68 414.7v-2.9M181.68 301.1v2.9M184.56 414.7v-2.9M184.56 301.1v2.9M187.44 414.7v-2.9M187.44 301.1v2.9M190.32 414.7v-2.9M190.32 301.1v2.9M193.2 414.7v-4.9M193.2 301.1v4.9M196.08 414.7v-2.9M196.08 301.1v2.9M198.96 414.7v-2.9M198.96 301.1v2.9M201.84 414.7v-2.9M201.84 301.1v2.9M204.72 414.7v-2.9M204.72 301.1v2.9M207.6 414.7v-2.9M207.6 301.1v2.9M210.48 414.7v-2.9M210.48 301.1v2.9M213.36 414.7v-2.9M213.36 301.1v2.9M216.24 414.7v-2.9M216.24 301.1v2.9M219.12 414.7v-2.9M219.12 301.1v2.9M222 414.7v-4.9M222 301.1v4.9" stroke="#000" stroke-width="0.58" fill="none"/>
<path d="M78 414.7h4.9M222 414.7h-4.9M78 409.02h2.9M222 409.02h-2.9M78 403.34h2.9M222 403.34h-2.9M78 397.66h2.9M222 397.66h-2.9M78 391.98h2.9M222 391.98h-2.9M78 386.3h4.9M222 386.3h-4.9M78 380.62h2.9M222 380.62h-2.9M78 374.94h2.9M222 374.94h-2.9M78 369.26h2.9M222 369.26h-2.9M78 363.58h2.9M222 363.58h-2.9M78 357.9h4.9M222 357.9h-4.9M78 352.22h2.9M222 352.22h-2.9M78 346.54h2.9M222 346.54h-2.9M78 340.86h2.9M222 340.86h-2.9M78 335.18h2.9M222 335.18h-2.9M78 329.5h4.9M222 329.5h-4.9M78 323.82h2.9M222 323.82h-2.9M78 318.14h2.9M222 318.14h-2.9M78 312.46h2.9M222 312.46h-2.9M78 306.78h2.9M222 306.78h-2.9M78 301.1h4.9M222 301.1h-4.9" stroke="#000" stroke-width="0.58" fill="none"/>
<rect x="78" y="301.1" width="144" height="113.6" fill="none" stroke="#000" stroke-width="1.3"/>
<path d="M78.4 369.6C78.82 368.45 80.17 365.12 80.9 362.7C81.63 360.28 82.32 357.62 82.8 355.1C83.28 352.58 83.55 350.12 83.8 347.6C84.05 345.08 84.22 341.27 84.3 340 L85 307.9 L86.4 340 " stroke="#000" stroke-width="1.45" fill="none"/>
<path d="M86.4 340C86.43 342.1 86.47 348.4 86.6 352.6C86.73 356.8 86.88 361.42 87.2 365.2C87.52 368.98 87.97 372.15 88.5 375.3C89.03 378.45 89.67 381.58 90.4 384.1C91.13 386.62 91.85 388.5 92.9 390.4C93.95 392.3 95.23 394.02 96.7 395.5C98.17 396.98 100.02 398.25 101.7 399.3C103.38 400.35 105.95 401.38 106.8 401.8" stroke="#000" stroke-width="1.45" fill="none"/>
<path d="M106.8 401.8C107.63 401.43 109.67 400.3 111.8 399.6C113.93 398.9 115.68 398.25 119.6 397.6C123.52 396.95 130.4 396.18 135.3 395.7C140.2 395.22 144.05 395 149 394.7C153.95 394.4 157.43 394.17 165 393.9C172.57 393.63 184.92 393.35 194.4 393.1C203.88 392.85 217.32 392.52 221.9 392.4" stroke="#000" stroke-width="1.45" fill="none"/>
<text x="75.8" y="417.9" font-size="9.5" text-anchor="end" >0</text>
<text x="75.8" y="389.5" font-size="9.5" text-anchor="end" >1</text>
<text x="75.8" y="361.1" font-size="9.5" text-anchor="end" >2</text>
<text x="75.8" y="332.7" font-size="9.5" text-anchor="end" >3</text>
<text x="75.8" y="304.3" font-size="9.5" text-anchor="end" >4</text>
<text x="78" y="424.9" font-size="9.5" text-anchor="middle" >0</text>
<text x="106.8" y="424.9" font-size="9.5" text-anchor="middle" >1</text>
<text x="135.6" y="424.9" font-size="9.5" text-anchor="middle" >2</text>
<text x="164.4" y="424.9" font-size="9.5" text-anchor="middle" >3</text>
<text x="193.2" y="424.9" font-size="9.5" text-anchor="middle" >4</text>
<text x="222" y="424.9" font-size="9.5" text-anchor="middle" >5</text>
<text x="140.6" y="319.8" font-size="10.1" text-anchor="start" >T=300K</text>
<g font-size="14.2"><text x="114" y="436.2">n (10</text><text x="144" y="431.2" font-size="8.38">12</text><text x="154.6" y="436.2">cm</text><text x="172.9" y="431.6" font-size="8.38">-2</text><text x="182.6" y="436.2">)</text></g>
<g transform="translate(65.4 396.9) rotate(-90)" font-size="14.7"><text transform="scale(1.15 1.05)" x="-0.23" y="0">Γ</text><text x="6.68" y="1.8" font-size="10.14">-</text><text x="16.59" y="0">(</text><text x="21.25" y="0">k</text><text x="30.05" y="4.66" font-size="10.14">F</text><text x="35.51" y="0">)</text><text x="44.15" y="0">(meV)</text></g>
</g>
</svg>
</body></html>
